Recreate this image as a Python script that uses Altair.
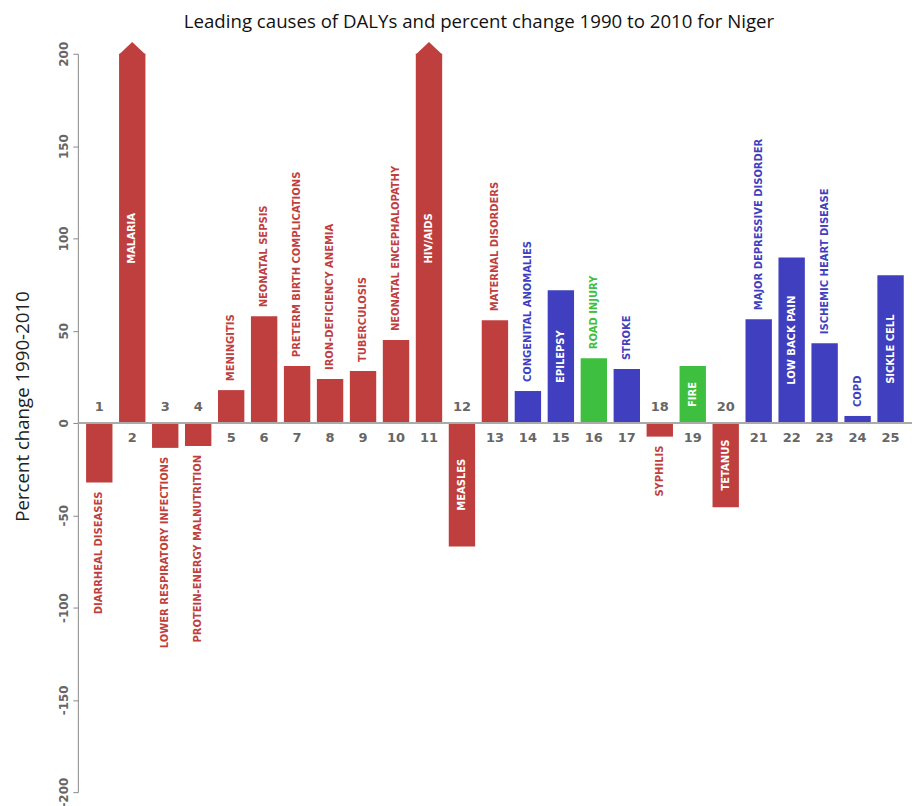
import altair as alt
import pandas as pd

ranks = list(range(1, 26))
causes = [
    "DIARRHEAL DISEASES", "MALARIA", "LOWER RESPIRATORY INFECTIONS",
    "PROTEIN-ENERGY MALNUTRITION", "MENINGITIS", "NEONATAL SEPSIS",
    "PRETERM BIRTH COMPLICATIONS", "IRON-DEFICIENCY ANEMIA", "TUBERCULOSIS",
    "NEONATAL ENCEPHALOPATHY", "HIV/AIDS", "MEASLES", "MATERNAL DISORDERS",
    "CONGENITAL ANOMALIES", "EPILEPSY", "ROAD INJURY", "STROKE", "SYPHILIS",
    "FIRE", "TETANUS", "MAJOR DEPRESSIVE DISORDER", "LOW BACK PAIN",
    "ISCHEMIC HEART DISEASE", "COPD", "SICKLE CELL",
]
pct_change = [
    -32.3, 240.0, -13.5, -12.5, 17.8, 57.8, 30.8, 23.8, 28.1, 44.9, 380.0,
    -66.9, 55.7, 17.3, 71.9, 35.1, 29.2, -7.4, 30.8, -45.6, 56.2, 89.7,
    43.2, 3.8, 80.0,
]
C, N, I = "Communicable", "Non-communicable", "Injuries"
groups = [C, C, C, C, C, C, C, C, C, C, C, C, C, N, N, I, N, C, I, C, N, N, N, N, N]

group_domain = [C, N, I]
group_colors = ["#BF3F3F", "#3F3FBF", "#3FBF3F"]
y_ticks = [-200, -150, -100, -50, 0, 50, 100, 150, 200]

df = pd.DataFrame({"rank": ranks, "cause": causes, "value": pct_change, "group": groups})
df["shown"] = df["value"].clip(-200, 200)
px_per_unit = 740 / 400
df["inside"] = (df["cause"].str.len() * 7 + 20) < df["shown"].abs() * px_per_unit
df["mid"] = df["shown"] / 2
df["num"] = df["rank"].astype(str)

x_scale = alt.Scale(paddingInner=0.2, paddingOuter=0.25)
y_scale = alt.Scale(domain=[-200, 200], nice=False)
color_scale = alt.Scale(domain=group_domain, range=group_colors)

X = alt.X("rank:O", scale=x_scale, axis=None)

base = alt.Chart(df)

bars = base.mark_bar().encode(
    x=X,
    y=alt.Y(
        "shown:Q",
        scale=y_scale,
        title="Percent change 1990-2010",
        axis=alt.Axis(
            values=y_ticks,
            labelAngle=270,
            labelAlign="center",
            labelBaseline="bottom",
            labelExpr="datum.value + ''",
            grid=False,
        ),
    ),
    y2=alt.datum(0),
    color=alt.Color("group:N", scale=color_scale, legend=None),
)

arrows = base.transform_filter("datum.value > 200").mark_point(
    shape="M-1,0.08L0,-0.87L1,0.08Z", filled=True, size=729, opacity=1, strokeWidth=0
).encode(
    x=X,
    y=alt.Y("shown:Q", scale=y_scale),
    color=alt.Color("group:N", scale=color_scale, legend=None),
)

zero = alt.Chart(pd.DataFrame({"z": [0]})).mark_rule(color="#aaaaaa", strokeWidth=2).encode(
    y=alt.Y("z:Q", scale=y_scale)
)

label_font = dict(font="DejaVu Sans", fontWeight="bold", fontSize=10, angle=270)

inside = base.transform_filter("datum.inside").mark_text(
    align="center", baseline="middle", color="white", **label_font
).encode(x=X, y=alt.Y("mid:Q", scale=y_scale), text="cause:N")

out_pos = base.transform_filter("!datum.inside && datum.value >= 0").mark_text(
    align="left", baseline="middle", dx=9, **label_font
).encode(
    x=X, y=alt.Y("shown:Q", scale=y_scale), text="cause:N",
    color=alt.Color("group:N", scale=color_scale, legend=None),
)

out_neg = base.transform_filter("!datum.inside && datum.value < 0").mark_text(
    align="right", baseline="middle", dx=-9, **label_font
).encode(
    x=X, y=alt.Y("shown:Q", scale=y_scale), text="cause:N",
    color=alt.Color("group:N", scale=color_scale, legend=None),
)

num_font = dict(font="DejaVu Sans", fontWeight="bold", fontSize=13, color="#666666")

num_pos = base.transform_filter("datum.value >= 0").mark_text(
    align="center", baseline="top", dy=9, **num_font
).encode(x=X, y=alt.datum(0), text="num:N")

num_neg = base.transform_filter("datum.value < 0").mark_text(
    align="center", baseline="bottom", dy=-9, **num_font
).encode(x=X, y=alt.datum(0), text="num:N")

chart = alt.layer(
    bars, arrows, zero, inside, out_pos, out_neg, num_pos, num_neg
).properties(
    width=836,
    height=740,
    autosize=alt.AutoSizeParams(type="none"),
    padding={"left": 70, "top": 45, "right": 0, "bottom": 13},
    title=alt.Title(
        text="Leading causes of DALYs and percent change 1990 to 2010 for Niger",
        font="Open Sans",
        fontSize=18.7,
        fontWeight="normal",
        color="#111111",
        anchor="middle",
        dx=-16,
        offset=10,
    ),
).configure_view(stroke=None).configure_axis(
    domainColor="#888888",
    tickColor="#888888",
    tickSize=5,
    labelColor="#666666",
    labelFont="DejaVu Sans",
    labelFontWeight="bold",
    labelFontSize=12,
    labelPadding=2,
    titleFont="Open Sans",
    titleFontSize=18.7,
    titleFontWeight="normal",
    titleColor="#222222",
    titleAngle=270,
    titleAlign="center",
    titleBaseline="middle",
    titleX=-55,
    titleY=353,
)

chart.save("out.html", embed_options={"renderer": "svg", "actions": False})
